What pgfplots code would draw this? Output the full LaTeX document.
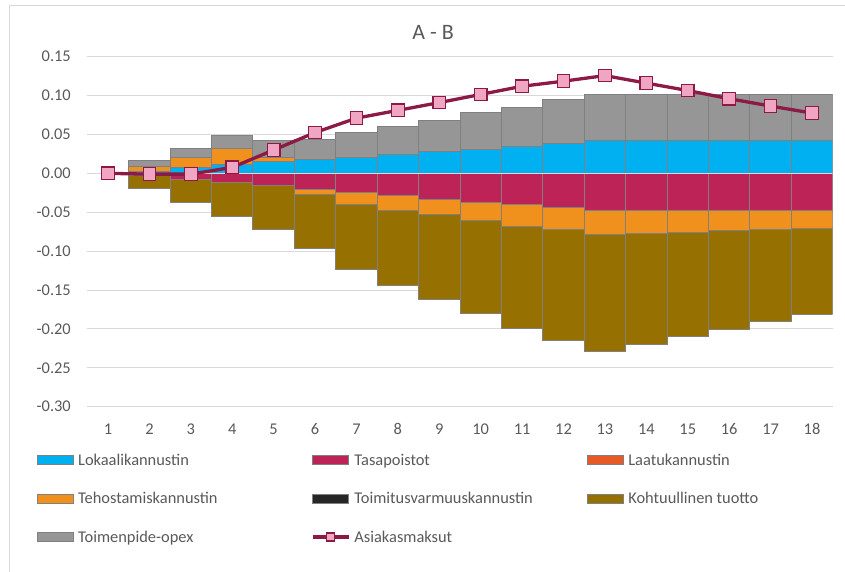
\documentclass[border=0pt]{standalone}
\usepackage{pgfplots}
\pgfplotsset{compat=1.18}
\usepackage{fontspec}
\setmainfont{Carlito}

\definecolor{lokaali}{HTML}{00B0F0}
\definecolor{tasapoisto}{HTML}{BE2357}
\definecolor{laatu}{HTML}{E85A25}
\definecolor{tehostus}{HTML}{F0911E}
\definecolor{toimitus}{HTML}{262626}
\definecolor{tuotto}{HTML}{967000}
\definecolor{opex}{HTML}{969696}
\definecolor{barborder}{HTML}{808080}
\definecolor{linered}{HTML}{8C1A45}
\definecolor{markpink}{HTML}{F0A5C3}
\definecolor{gridgray}{HTML}{D9D9D9}
\definecolor{textgray}{HTML}{595959}

\newcommand{\lt}[1]{\makebox[237pt][l]{\hspace{4pt}\rule[-4pt]{0pt}{16pt}#1}}
\newcommand{\barimg}[1]{\addlegendimage{legend image code/.code={%
  \draw[fill=#1, draw=barborder, line width=0.9pt] (0pt,-4.5pt) rectangle (36pt,4.5pt);}}}

\pgfplotsset{
  base/.style={
    at={(87.3pt,165.3pt)}, anchor=south west,
    width=745.4pt, height=350pt, scale only axis,
    xmin=0.5, xmax=18.5, ymin=-0.30, ymax=0.15,
    /pgf/number format/assume math mode=true,
  },
  bars/.style={ybar stacked, bar width=1},
}

\begin{document}
\begin{tikzpicture}[x=1pt,y=1pt]
\useasboundingbox (0,0) rectangle (845,572);
\draw[gridgray, line width=1pt] (9.3,-10) -- (9.3,566) -- (860,566);

% positive part of the stack
\begin{axis}[base, bars,
  xtick={1,...,18},
  ytick={-0.30,-0.25,-0.20,-0.15,-0.10,-0.05,0,0.05,0.10,0.15},
  ymajorgrids, grid style={draw=gridgray, line width=1pt},
  axis line style={draw=none}, major tick length=0pt,
  tick label style={font=\fontsize{16.4}{18}\selectfont, text=textgray},
  yticklabel style={anchor=east, inner sep=0pt, xshift=-16.3pt,
    /pgf/number format/fixed, /pgf/number format/fixed zerofill,
    /pgf/number format/precision=2},
  xticklabel style={anchor=center, inner sep=0pt, yshift=-22.3pt},
  title={A - B},
  title style={at={(0.4638,1)}, anchor=center, yshift=18.7pt,
    font=\fontsize{22}{26}\selectfont, text=textgray},
]
\addplot[fill=lokaali, draw=barborder, line width=0.9pt] coordinates {
  (2,0.003) (3,0.007) (4,0.012) (5,0.015) (6,0.018) (7,0.021) (8,0.024) (9,0.028)
  (10,0.031) (11,0.035) (12,0.039) (13,0.042) (14,0.042) (15,0.042) (16,0.042)
  (17,0.042) (18,0.042)};
\addplot[fill=tehostus, draw=barborder, line width=0.9pt] coordinates {
  (2,0.006) (3,0.014) (4,0.020) (5,0.006) (6,0) (7,0) (8,0) (9,0)
  (10,0) (11,0) (12,0) (13,0) (14,0) (15,0) (16,0) (17,0) (18,0)};
\addplot[fill=opex, draw=barborder, line width=0.9pt] coordinates {
  (2,0.007) (3,0.011) (4,0.017) (5,0.021) (6,0.0255) (7,0.031) (8,0.0365) (9,0.040)
  (10,0.047) (11,0.050) (12,0.0555) (13,0.060) (14,0.060) (15,0.060) (16,0.060)
  (17,0.060) (18,0.060)};
\end{axis}

% negative part of the stack
\begin{axis}[base, bars, hide axis]
\addplot[fill=tasapoisto, draw=barborder, line width=0.9pt] coordinates {
  (2,-0.003) (3,-0.008) (4,-0.012) (5,-0.016) (6,-0.0205) (7,-0.025) (8,-0.029)
  (9,-0.033) (10,-0.037) (11,-0.040) (12,-0.044) (13,-0.048) (14,-0.048)
  (15,-0.048) (16,-0.048) (17,-0.048) (18,-0.048)};
\addplot[fill=tehostus, draw=barborder, line width=0.9pt] coordinates {
  (2,0) (3,0) (4,0) (5,0) (6,-0.006) (7,-0.015) (8,-0.019) (9,-0.020)
  (10,-0.0235) (11,-0.0278) (12,-0.0286) (13,-0.031) (14,-0.029) (15,-0.0277)
  (16,-0.026) (17,-0.0238) (18,-0.0225)};
\addplot[fill=tuotto, draw=barborder, line width=0.9pt] coordinates {
  (2,-0.016) (3,-0.029) (4,-0.043) (5,-0.056) (6,-0.070) (7,-0.084) (8,-0.0956)
  (9,-0.1086) (10,-0.1195) (11,-0.1312) (12,-0.142) (13,-0.1505) (14,-0.1427)
  (15,-0.1337) (16,-0.1269) (17,-0.1184) (18,-0.1103)};
\end{axis}

% line and legend
\begin{axis}[base, hide axis,
  legend columns=3, legend cell align=left,
  legend style={at={(-0.06715,-0.1331)}, anchor=north west,
    draw=none, fill=none, inner sep=0pt, outer sep=0pt,
    column sep=0pt, row sep=25pt, nodes={inner sep=0pt},
    font=\fontsize{16.4}{18}\selectfont, text=textgray},
]
\addplot[draw=gridgray, line width=1.5pt, forget plot] coordinates {(0.5,0) (18.5,0)};
\barimg{lokaali}\addlegendentry{\lt{Lokaalikannustin}}
\barimg{tasapoisto}\addlegendentry{\lt{Tasapoistot}}
\barimg{laatu}\addlegendentry{\lt{Laatukannustin}}
\barimg{tehostus}\addlegendentry{\lt{Tehostamiskannustin}}
\barimg{toimitus}\addlegendentry{\lt{Toimitusvarmuuskannustin}}
\barimg{tuotto}\addlegendentry{\lt{Kohtuullinen tuotto}}
\barimg{opex}\addlegendentry{\lt{Toimenpide-opex}}
\addplot[linered, line width=3.3pt, mark=square*, mark size=6.3pt,
  mark options={fill=markpink, draw=linered, line width=1.2pt},
  legend image code/.code={%
    \draw[linered, line width=3.3pt] (0pt,0pt) -- (36pt,0pt);
    \draw[fill=markpink, draw=linered, line width=1.2pt] (14pt,-4pt) rectangle (22pt,4pt);}]
  coordinates {
  (1,0.000) (2,-0.001) (3,-0.001) (4,0.0077) (5,0.030) (6,0.0525) (7,0.071)
  (8,0.081) (9,0.091) (10,0.1015) (11,0.112) (12,0.1185) (13,0.1257) (14,0.116)
  (15,0.1065) (16,0.096) (17,0.0865) (18,0.0775)};
\addlegendentry{\lt{Asiakasmaksut}}
\end{axis}
\end{tikzpicture}
\end{document}
